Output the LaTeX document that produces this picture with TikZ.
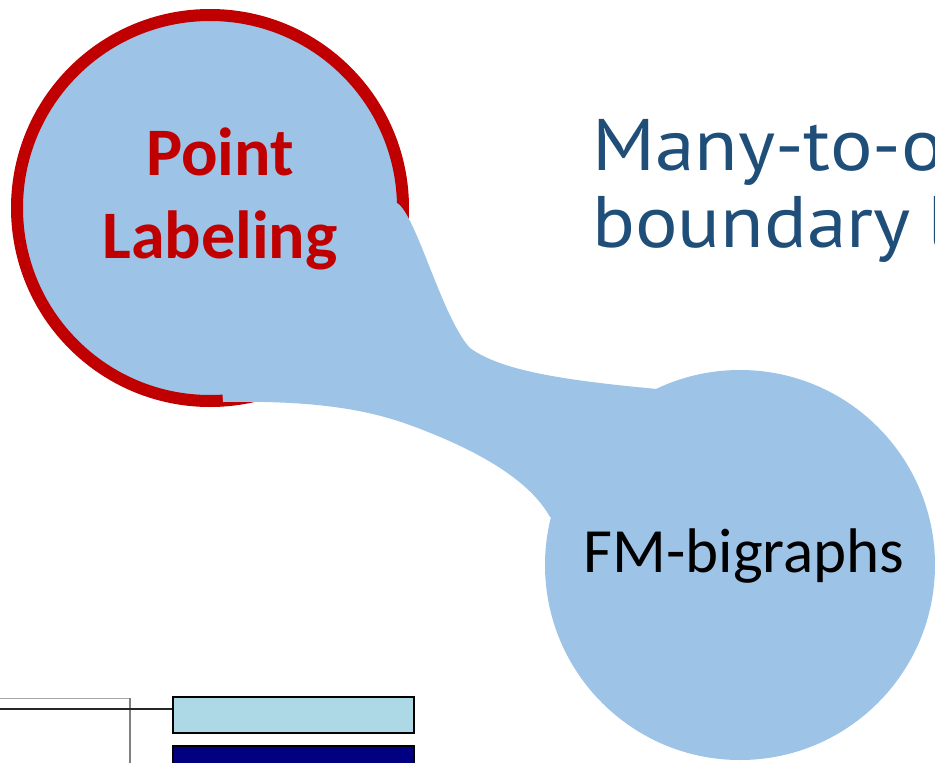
\documentclass[tikz,border=0pt]{standalone}
\usepackage{fontspec}
\setmainfont{Carlito}
\newfontfamily\headfont[FakeStretch=1.09]{PT Sans}
\definecolor{blobblue}{HTML}{9DC3E6}
\definecolor{darkred}{HTML}{C00000}
\definecolor{headblue}{HTML}{1F4E79}
\definecolor{lightbox}{HTML}{ADD8E6}
\definecolor{navybox}{HTML}{000080}
\tikzset{
  bubble/.style={fill=blobblue},
  redring/.style={draw=darkred, line width=12pt},
  bar/.style={draw=black, line width=2pt, minimum width=241pt, inner sep=0pt, rectangle},
}
\begin{document}
\begin{tikzpicture}[x=1pt,y=-1pt]
\useasboundingbox (0,0) rectangle (935,763);
\begin{scope}
\clip (0,0) rectangle (935,763);
% circles
\path[bubble,redring] (210,208) circle[radius=193pt];
\path[bubble] (740,565) circle[radius=195pt];
% connecting blob
\path[bubble] (210,208) -- (397,203)
  .. controls (416,214) and (442,318) .. (470,348)
  .. controls (500,370) and (560,380) .. (657,389)
  -- (740,565) -- (550,517)
  .. controls (535,490) and (500,460) .. (423,430)
  .. controls (380,413) and (330,400) .. (223,402) -- cycle;
% texts
\node[anchor=base, align=center, inner sep=0pt, text=darkred,
      font=\fontsize{68}{83}\selectfont\bfseries] (pl) at (220,258) {Point\\Labeling};
\node[anchor=base, inner sep=0pt, text=black,
      font=\fontsize{63}{75}\selectfont] (fm) at (744,572) {FM-bigraphs};
\node[anchor=base west, align=left, inner sep=0pt, text=headblue,
      font=\headfont\fontsize{73}{77}\selectfont] (hd) at (592,247) {Many-to-one\\boundary\hspace{17pt}labeling};
% bottom-left fragment
\draw[gray!70, line width=1pt] (-2,698) -- (130,698);
\draw[gray, line width=1.2pt] (130,698) -- (130,770);
\node[bar, fill=lightbox, minimum height=36pt] (lb) at (293.5,715) {};
\node[bar, fill=navybox, minimum height=44pt] (nb) at (293.5,768) {};
\coordinate (lineL) at (-2,709);
\draw[black!85, line width=2pt] (lineL) -- (lineL -| lb.west);
\end{scope}
\end{tikzpicture}
\end{document}
